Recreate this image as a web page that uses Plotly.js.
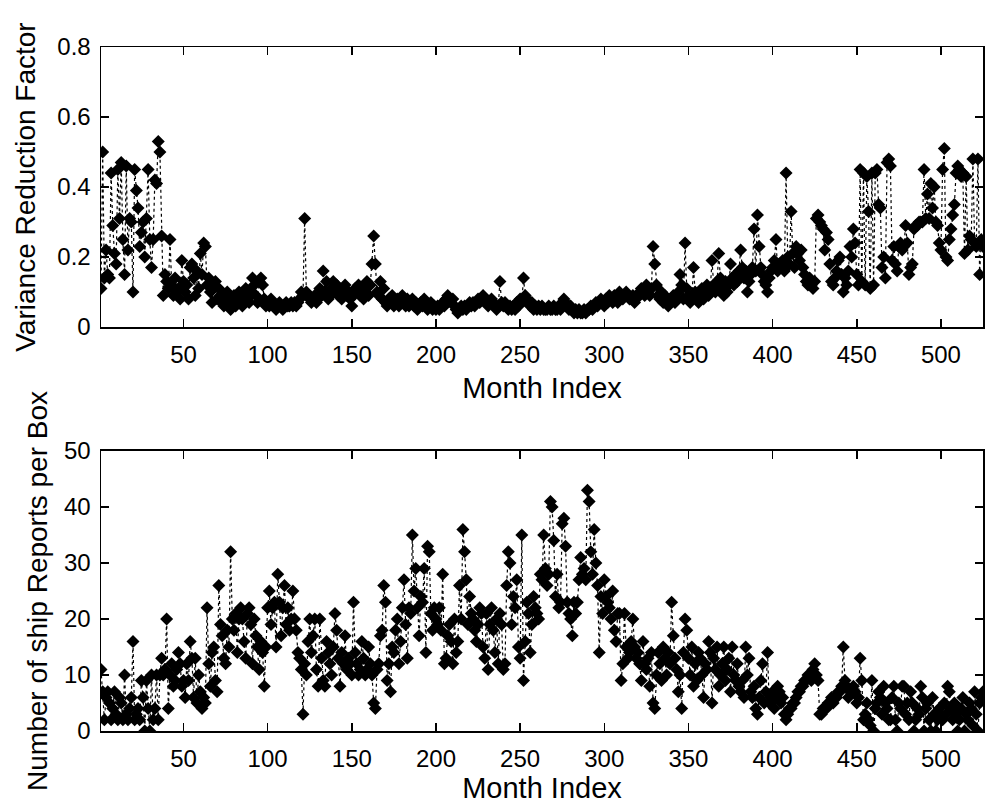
<!DOCTYPE html>
<html>
<head>
<meta charset="utf-8">
<script src="https://cdn.plot.ly/plotly-3.0.1.min.js"></script>
<style>html,body{margin:0;padding:0;background:#fff;}#chart{width:988px;height:804px;}</style>
</head>
<body>
<div id="chart"></div>
<script>
// Variance reduction factor per month (months 1..525)
const varianceReduction = [
0.11,0.50,0.14,0.22,0.15,0.14,0.44,0.29,0.21,0.18,0.45,0.31,0.47,0.25,0.15,0.46,0.22,0.31,0.30,0.10,
0.45,0.39,0.34,0.23,0.27,0.30,0.20,0.31,0.45,0.25,0.17,0.25,0.42,0.41,0.53,0.50,0.26,0.09,0.15,0.13,
0.11,0.25,0.12,0.09,0.14,0.10,0.11,0.08,0.19,0.13,0.10,0.12,0.08,0.17,0.18,0.14,0.09,0.16,0.11,0.21,0.15,0.24,0.23,0.12,0.14,
0.10,0.07,0.12,0.13,0.08,0.11,0.09,0.07,0.06,0.08,0.10,0.07,0.05,0.07,0.09,0.06,0.08,0.10,0.07,0.06,0.09,0.11,0.08,0.07,0.10,
0.14,0.12,0.09,0.07,0.13,0.14,0.12,0.08,0.06,0.07,0.06,0.08,0.07,0.06,0.05,0.06,0.07,0.06,0.05,0.06,0.07,0.06,0.06,0.07,0.06,
0.07,0.06,0.07,0.08,0.10,0.09,0.31,0.10,0.09,0.08,0.07,0.08,0.09,0.07,0.08,0.11,0.09,0.16,0.10,0.13,0.08,0.09,0.11,0.13,0.10,
0.12,0.09,0.11,0.08,0.10,0.12,0.09,0.10,0.08,0.06,0.09,0.11,0.10,0.12,0.09,0.11,0.08,0.10,0.13,0.09,0.12,0.18,0.26,0.18,0.10,
0.09,0.13,0.08,0.11,0.07,0.06,0.08,0.07,0.09,0.06,0.07,0.08,0.06,0.07,0.09,0.07,0.06,0.08,0.06,0.07,0.08,0.06,0.07,0.05,0.06,
0.07,0.06,0.08,0.06,0.05,0.06,0.07,0.05,0.06,0.05,0.06,0.05,0.06,0.07,0.06,0.08,0.09,0.08,0.07,0.08,0.06,0.05,0.04,0.05,0.06,
0.05,0.06,0.05,0.06,0.07,0.06,0.07,0.06,0.07,0.08,0.07,0.08,0.09,0.08,0.07,0.06,0.07,0.08,0.07,0.06,0.05,0.06,0.13,0.07,0.06,
0.07,0.06,0.05,0.06,0.05,0.06,0.05,0.07,0.06,0.08,0.07,0.14,0.09,0.08,0.07,0.06,0.07,0.05,0.06,0.05,0.06,0.05,0.06,0.05,0.05,
0.05,0.06,0.05,0.05,0.06,0.05,0.05,0.06,0.05,0.07,0.08,0.07,0.06,0.05,0.06,0.05,0.04,0.05,0.04,0.05,0.04,0.04,0.05,0.04,0.05,
0.05,0.06,0.05,0.06,0.07,0.06,0.07,0.08,0.07,0.06,0.08,0.07,0.09,0.08,0.07,0.09,0.08,0.07,0.10,0.09,0.08,0.09,0.10,0.09,0.08,
0.08,0.09,0.07,0.08,0.09,0.10,0.11,0.10,0.09,0.12,0.10,0.09,0.11,0.23,0.18,0.12,0.09,0.08,0.10,0.07,0.09,0.08,0.06,0.07,0.08,
0.09,0.07,0.08,0.10,0.15,0.12,0.08,0.24,0.11,0.09,0.07,0.08,0.17,0.10,0.08,0.07,0.09,0.11,0.08,0.10,0.12,0.09,0.11,0.19,0.12,
0.10,0.13,0.21,0.14,0.11,0.09,0.13,0.10,0.12,0.18,0.14,0.12,0.15,0.13,0.16,0.22,0.17,0.14,0.16,0.10,0.13,0.15,0.17,0.28,0.16,
0.32,0.23,0.17,0.15,0.13,0.12,0.10,0.14,0.16,0.17,0.19,0.25,0.16,0.18,0.17,0.19,0.16,0.44,0.20,0.18,0.33,0.21,0.17,0.23,0.21,
0.19,0.22,0.17,0.15,0.13,0.12,0.14,0.12,0.11,0.13,0.31,0.32,0.30,0.29,0.28,0.22,0.27,0.25,0.18,0.13,0.12,0.14,0.16,0.19,0.20,
0.15,0.10,0.14,0.12,0.16,0.23,0.20,0.28,0.24,0.15,0.12,0.45,0.13,0.44,0.12,0.43,0.33,0.11,0.44,0.12,0.44,0.45,0.35,0.34,0.17,
0.20,0.14,0.47,0.48,0.46,0.19,0.23,0.18,0.16,0.23,0.24,0.22,0.23,0.29,0.24,0.15,0.17,0.18,0.28,0.29,0.29,0.30,0.30,0.30,0.45,
0.31,0.38,0.31,0.41,0.34,0.40,0.30,0.29,0.24,0.22,0.45,0.51,0.20,0.19,0.25,0.28,0.32,0.35,0.44,0.46,0.45,0.43,0.44,0.21,0.43,
0.22,0.26,0.25,0.48,0.24,0.23,0.48,0.15,0.25,0.23
];

// Number of ship reports per box per month (months 1..525)
const shipReports = [
11,7,2,6,7,5,2,4,7,3,2,6,5,2,10,3,2,4,6,16,2,3,4,2,9,
6,0,9,4,0,10,2,4,10,2,10,13,10,11,20,4,10,12,8,9,11,14,12,8,9,
6,12,9,16,13,6,13,5,10,7,4,6,5,22,12,8,14,15,9,7,26,19,17,13,12,
18,15,32,20,18,21,14,20,22,20,16,13,21,22,19,12,20,17,15,11,16,14,8,15,22,
25,19,22,23,15,28,23,17,22,26,19,22,18,20,25,20,18,14,13,11,3,12,10,16,20,
14,17,20,11,8,20,13,9,8,16,14,12,10,15,21,18,13,8,14,12,17,11,13,12,10,
23,14,12,10,11,16,13,10,11,15,12,10,5,4,11,12,17,18,26,23,9,12,7,15,14,
18,20,12,16,22,27,19,13,22,21,35,25,29,22,17,24,23,29,14,33,32,21,18,22,20,
19,22,18,28,12,13,17,19,16,12,20,14,16,26,20,36,32,27,19,24,21,20,18,16,19,
22,21,15,13,21,11,19,22,18,14,20,12,21,19,11,12,26,32,30,19,24,22,27,15,13,
35,9,16,23,21,14,19,24,22,21,20,28,27,35,29,26,28,41,40,34,24,28,22,23,37,
38,33,23,21,20,17,23,21,23,27,31,28,29,27,43,41,32,28,36,30,26,14,24,21,27,
24,23,22,20,25,18,16,21,21,9,12,21,15,13,14,16,20,15,13,14,12,9,16,12,11,
13,8,14,5,4,10,14,12,9,15,13,10,14,12,23,17,13,11,7,10,4,14,20,18,13,
10,15,8,12,9,14,13,10,6,12,11,16,14,5,13,11,15,8,10,12,15,9,11,13,7,
15,10,9,12,8,7,9,6,15,10,13,7,6,8,4,3,6,9,12,5,7,14,5,6,7,
4,6,8,7,5,6,3,2,3,4,4,5,5,6,7,7,8,8,9,9,10,10,9,11,12,
10,9,3,3,4,4,4,5,5,6,5,6,6,7,7,8,15,9,8,6,7,7,8,7,5,
6,13,9,2,3,5,2,1,9,0,4,5,7,6,3,8,5,4,2,2,6,8,2,0,5,
4,8,8,3,5,2,7,5,0,2,4,3,8,6,0,4,5,2,0,6,3,0,2,4,3,
2,5,3,8,7,4,2,5,3,0,2,4,6,0,3,2,5,4,1,7,3,0,5,6,7
];

const xTicks = [50,100,150,200,250,300,350,400,450,500];
const vrfTicks = [0,0.2,0.4,0.6,0.8];
const vrfTickText = ['0','0.2','0.4','0.6','0.8'];
const reportTicks = [0,10,20,30,40,50];

const monthsA = varianceReduction.map((_, i) => i + 1);
const monthsB = shipReports.map((_, i) => i + 1);

const FONT = 'Liberation Sans, Arial, Helvetica, sans-serif';
const markerStyle = {symbol: 'diamond', size: 10, color: '#000'};
const lineStyle = {color: '#000', width: 1.2, dash: 'dot'};

const traces = [
  {x: monthsA, y: varianceReduction, xaxis: 'x', yaxis: 'y', mode: 'lines+markers',
   marker: markerStyle, line: lineStyle, showlegend: false, hoverinfo: 'x+y'},
  {x: monthsB, y: shipReports, xaxis: 'x2', yaxis: 'y2', mode: 'lines+markers',
   marker: markerStyle, line: lineStyle, showlegend: false, hoverinfo: 'x+y'}
];

const axisCommon = {
  showgrid: false, zeroline: false, showline: true, linecolor: '#000', linewidth: 1.5,
  mirror: 'ticks', ticks: 'inside', ticklen: 8, tickwidth: 1.5, tickcolor: '#000',
  tickfont: {family: FONT, size: 24, color: '#000'}
};

const layout = {
  width: 988, height: 804,
  paper_bgcolor: '#fff', plot_bgcolor: '#fff',
  margin: {l: 101, r: 5, t: 47, b: 73},
  font: {family: FONT, color: '#000'},
  xaxis: Object.assign({}, axisCommon, {
    domain: [0, 1], anchor: 'y', range: [1, 525], tickvals: xTicks, ticklabelstandoff: 6,
    title: {text: 'Month Index', font: {family: FONT, size: 29, color: '#000'}, standoff: 10}
  }),
  yaxis: Object.assign({}, axisCommon, {
    domain: [0.5906, 1], anchor: 'x', range: [0, 0.8], tickvals: vrfTicks, ticktext: vrfTickText,
    ticklabelstandoff: 4,
    title: {text: 'Variance Reduction Factor', font: {family: FONT, size: 28, color: '#000'}, standoff: 13}
  }),
  xaxis2: Object.assign({}, axisCommon, {
    domain: [0, 1], anchor: 'y2', range: [1, 525], tickvals: xTicks, ticklabelstandoff: 6,
    title: {text: 'Month Index', font: {family: FONT, size: 29, color: '#000'}, standoff: 10}
  }),
  yaxis2: Object.assign({}, axisCommon, {
    domain: [0, 0.4094], anchor: 'x2', range: [0, 50], tickvals: reportTicks,
    ticklabelstandoff: 4,
    title: {text: 'Number of ship Reports per Box', font: {family: FONT, size: 28, color: '#000'}, standoff: 8}
  })
};

Plotly.newPlot('chart', traces, layout, {staticPlot: true, displayModeBar: false});
</script>
</body>
</html>
